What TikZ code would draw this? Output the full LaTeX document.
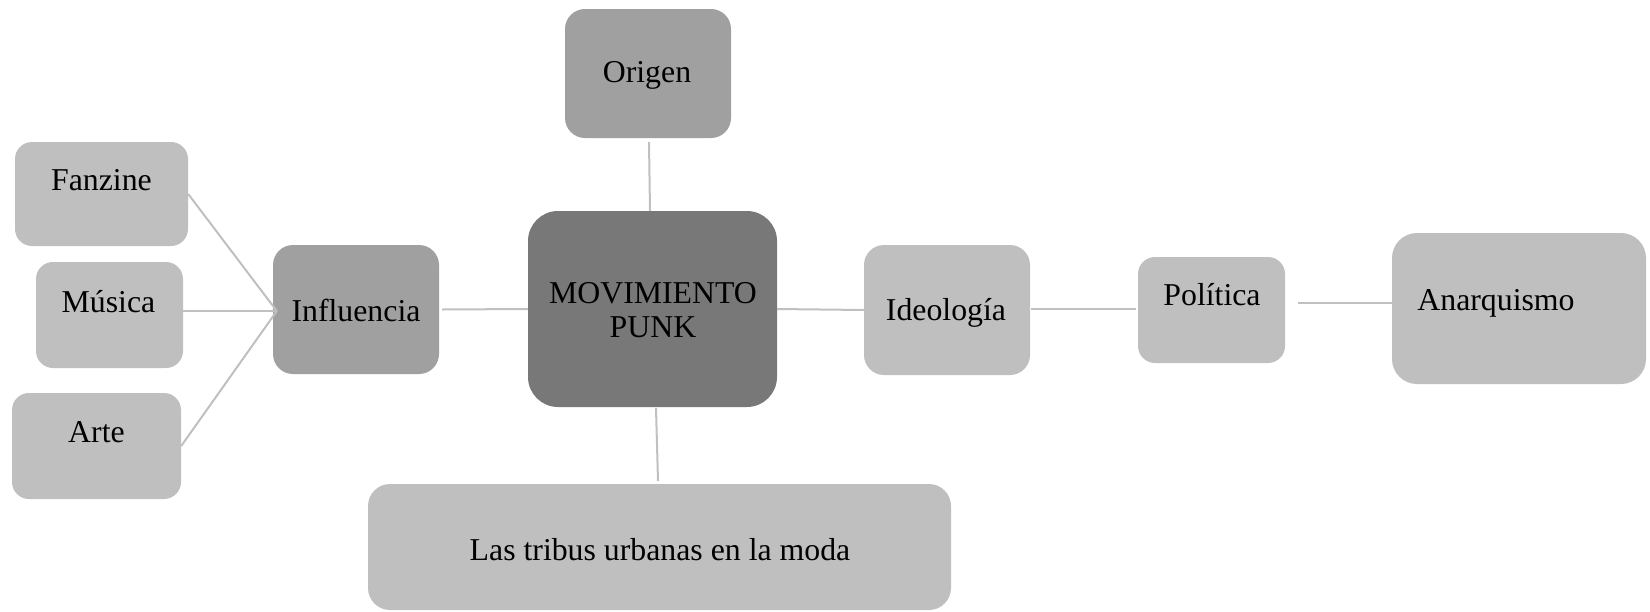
\documentclass[tikz,border=0pt]{standalone}
\usepackage{fontspec}
\setmainfont{Liberation Serif}
\usetikzlibrary{calc}
\definecolor{cdark}{HTML}{787878}
\definecolor{cmid}{HTML}{A0A0A0}
\definecolor{clight}{HTML}{BFBFBF}
\definecolor{cline}{HTML}{C0C0C0}
\begin{document}
\begin{tikzpicture}[x=1pt,y=-1pt,
  box/.style={rectangle, rounded corners=17pt, draw=none, inner sep=0pt, fill=clight},
  txt/.style={inner sep=0pt, font=\fontsize{31.8pt}{36pt}\selectfont, text=black, align=center},
  conn/.style={draw=cline, line width=2pt}]
\useasboundingbox (0,0) rectangle (1650,611);
% boxes
\node[box, minimum width=173pt, minimum height=104pt] (fanzine) at (101.5,194) {};
\node[box, minimum width=147pt, minimum height=106pt] (musica) at (109.5,315) {};
\node[box, minimum width=169pt, minimum height=106pt] (arte) at (96.5,446) {};
\node[box, fill=cmid, minimum width=166pt, minimum height=129pt, rounded corners=20pt] (influencia) at (356,309.5) {};
\node[box, fill=cmid, minimum width=166pt, minimum height=129pt, rounded corners=20pt] (origen) at (648,73.5) {};
\node[box, fill=cdark, minimum width=249pt, minimum height=196pt, rounded corners=30pt] (center) at (652.5,309) {};
\node[box, minimum width=166pt, minimum height=130pt, rounded corners=20pt] (ideologia) at (947,310) {};
\node[box, minimum width=147pt, minimum height=106pt] (politica) at (1211.5,310) {};
\node[box, minimum width=254pt, minimum height=151pt, rounded corners=25pt] (anarquismo) at (1519,308.5) {};
\node[box, minimum width=583pt, minimum height=126pt, rounded corners=22pt] (tribus) at (659.5,547) {};
% texts
\node[txt] (tfanzine) at (101.5,180) {Fanzine};
\node[txt] (tmusica) at (108.5,302) {Música};
\node[txt] (tarte) at (96.5,432) {Arte};
\node[txt] (tinfluencia) at (356,310) {Influencia};
\node[txt] (torigen) at (647,75) {Origen};
\node[txt] (tcenter) at (653,310) {MOVIMIENTO\\[-2pt]PUNK};
\node[txt] (tideologia) at (946,313) {Ideología};
\node[txt] (tpolitica) at (1212,295) {Política};
\node[txt] (tanarquismo) at (1496,303) {Anarquismo};
\node[txt] (ttribus) at (660,550) {Las tribus urbanas en la moda};
% connectors
\draw[conn] (fanzine.east) -- ($(influencia.west)+(4,1.5)$);
\draw[conn] ($(musica.east)+(0,-4)$) -- ($(influencia.west)+(4,1.5)$);
\draw[conn] (arte.east) -- ($(influencia.west)+(4,1.5)$);
\draw[conn] ($(influencia.east)+(3,0)$) -- (center.west);
\draw[conn] ($(origen.south)+(1,4)$) -- ($(center.north)+(-2.5,0)$);
\draw[conn] ($(center.south)+(3.5,1)$) -- ($(tribus.north)+(-1.5,-3)$);
\draw[conn] (center.east) -- (ideologia.west);
\draw[conn] ($(ideologia.east)+(1,-1)$) -- ($(politica.west)+(-2,-1)$);
\draw[conn] ($(politica.east)+(13,-7)$) -- ($(anarquismo.west)+(0,-5.5)$);
\end{tikzpicture}
\end{document}
